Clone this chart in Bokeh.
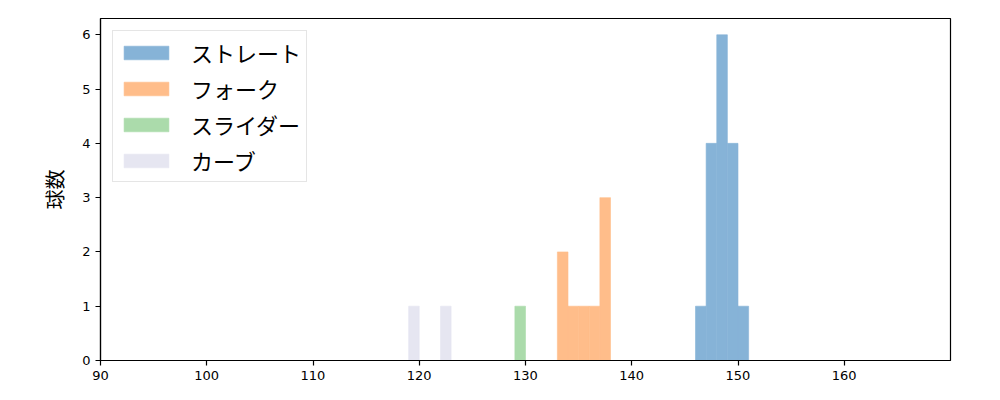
from bokeh.plotting import figure
from bokeh.models import Legend, LegendItem, FixedTicker, Range1d
from bokeh.embed import file_html
from bokeh.resources import INLINE

# data: bin left edges and counts per pitch type
straight_left = [146, 147, 148, 149, 150]
straight_count = [1, 4, 6, 4, 1]
fork_left = [133, 134, 135, 136, 137]
fork_count = [2, 1, 1, 1, 3]
slider_left = [129]
slider_count = [1]
curve_left = [119, 122]
curve_count = [1, 1]
bin_width = 1.0

labels = ["ストレート", "フォーク", "スライダー", "カーブ"]
colors = ["#86b3d7", "#ffbd8a", "#abdbab", "#e6e6f1"]

x_ticks = [90, 100, 110, 120, 130, 140, 150, 160]
y_ticks = [0, 1, 2, 3, 4, 5, 6]

p = figure(width=992, height=392, output_backend="svg", toolbar_location=None,
           x_range=Range1d(90, 170), y_range=Range1d(0, 6.3),
           min_border_left=100, min_border_top=18, min_border_right=42, min_border_bottom=32)
p.xgrid.visible = False
p.ygrid.visible = False
p.outline_line_color = "black"
p.outline_line_width = 1.2

series = [(straight_left, straight_count), (fork_left, fork_count),
          (slider_left, slider_count), (curve_left, curve_count)]
items = []
for (lefts, counts), lab, col in zip(series, labels, colors):
    r = p.quad(left=lefts, right=[l + bin_width for l in lefts], bottom=0, top=counts,
               fill_color=col, line_color=col, line_width=0.6)
    items.append(LegendItem(label=lab, renderers=[r]))

for ax in (p.xaxis[0], p.yaxis[0]):
    ax.axis_line_color = "black"
    ax.axis_line_width = 1.2
    ax.major_tick_line_color = "black"
    ax.major_tick_line_width = 1.2
    ax.major_tick_in = 0
    ax.major_tick_out = 5
    ax.minor_tick_line_color = None
    ax.major_label_text_font = "DejaVu Sans"
    ax.major_label_text_font_size = "13px"
    ax.major_label_text_color = "black"
p.xaxis[0].ticker = FixedTicker(ticks=x_ticks)
p.yaxis[0].ticker = FixedTicker(ticks=y_ticks)
p.yaxis[0].axis_label = "球数"
p.yaxis[0].axis_label_text_font = "Noto Sans CJK JP"
p.yaxis[0].axis_label_text_font_size = "20px"
p.yaxis[0].axis_label_text_font_style = "normal"
p.yaxis[0].axis_label_text_color = "black"
p.yaxis[0].axis_label_standoff = 10

legend = Legend(items=items, location="top_left")
legend.label_text_font = "Noto Sans CJK JP"
legend.label_text_font_size = "22px"
legend.label_text_color = "black"
legend.glyph_width = 56
legend.glyph_height = 17
legend.label_standoff = 17
legend.spacing = 4
legend.padding = 5
legend.margin = 12
legend.border_line_color = "#cccccc"
legend.border_line_width = 1
legend.background_fill_alpha = 0.8
p.add_layout(legend)

open("out.html", "w").write(file_html(p, INLINE))
